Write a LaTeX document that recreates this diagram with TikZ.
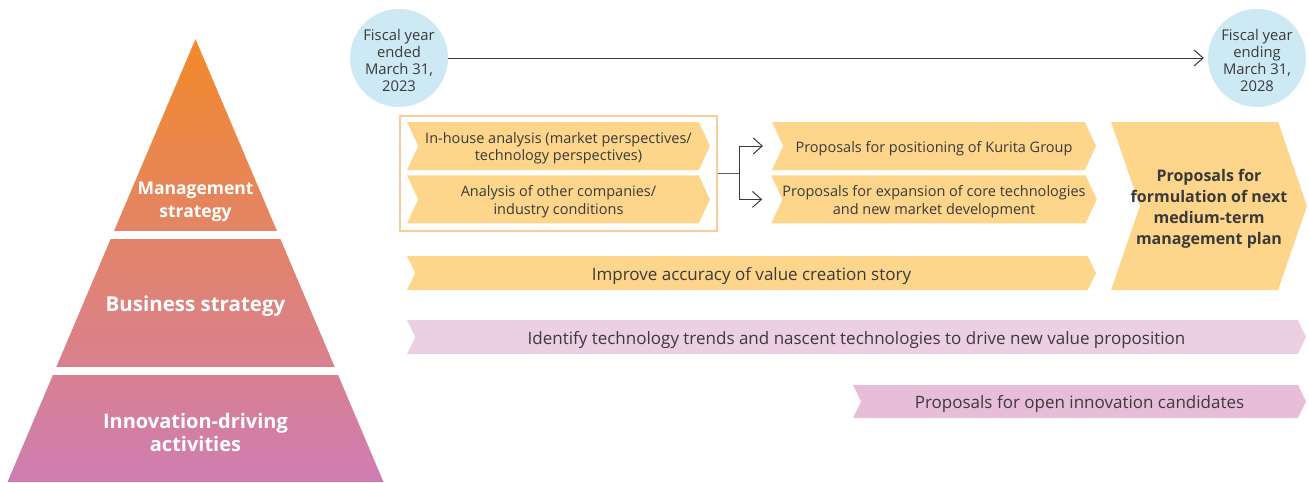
\documentclass[tikz,border=0pt]{standalone}
\usepackage{fontspec}
\setmainfont{Open Sans}
\usetikzlibrary{positioning,arrows.meta,shapes.symbols}
\definecolor{chevron}{HTML}{FDD58B}
\definecolor{pinklight}{HTML}{EDCFE4}
\definecolor{pinkdeep}{HTML}{E8BDDA}
\definecolor{sky}{HTML}{CDEAF4}
\definecolor{ink}{HTML}{3A3A3A}
\definecolor{edge}{HTML}{FBCB9C}
\definecolor{apex}{HTML}{F38A2A}
\definecolor{midtier}{HTML}{E4837A}
\definecolor{base}{HTML}{CF7DB3}
\newcommand{\lift}{\rule{0pt}{1.1em}}

\begin{document}
\begin{tikzpicture}[x=1pt,y=-1pt,
  every node/.style={align=center,text=ink,inner sep=0pt},
  lower/.style={execute at begin node={\lift}},
  chev/.style={lower,signal,signal from=west,signal to=east,signal pointer angle=130,
               fill=chevron,minimum height=48pt,font=\fontsize{14.5}{17.5}\selectfont},
  band/.style={chev,minimum height=34pt,signal pointer angle=128,font=\fontsize{17}{19}\selectfont},
  yr/.style={circle,fill=sky,minimum size=98pt,font=\fontsize{14.8}{16.8}\selectfont},
  tier/.style={text=white,font=\fontsize{20.5}{23}\selectfont\bfseries},
  frame/.style={draw=edge,line width=1.2pt,minimum width=317pt,minimum height=115pt},
  conn/.style={draw=ink,line width=1pt},
  >={Straight Barb[length=9pt,width=16pt]}]
\useasboundingbox (0,0) rectangle (1309,482);
% pyramid
\begin{scope}
  \clip (195.5,39) -- (383.5,482) -- (7.5,482) -- cycle;
  \shade[top color=apex,middle color=midtier,bottom color=base] (0,39) rectangle (400,482);
\end{scope}
\fill[white] (0,231) rectangle (400,239);
\fill[white] (0,367) rectangle (400,375);
\node[tier,font=\fontsize{17.5}{23}\selectfont\bfseries] (mgmt) at (195.5,201.5) {Management\\strategy};
\node[tier] (biz) at (195.5,306) {Business strategy};
\node[tier,font=\fontsize{20}{23}\selectfont\bfseries] (innov) at (195.5,432.5) {Innovation-driving\\activities};
% timeline
\node[yr] (fy23) at (399,58) {\lift Fiscal year\\ended\\March 31,\\2023};
\node[yr] (fy28) at (1257,58) {\lift Fiscal year\\ending\\March 31,\\2028};
\draw[conn,->,shorten >=4pt] (fy23) -- (fy28);
% analysis
\node[frame] (box) at (558.5,173.5) {};
\node[chev,minimum width=303pt] (inhouse) at (558.5,146) {\lift In-house analysis (market perspectives/\\technology perspectives)};
\node[chev,minimum width=303pt,below=5pt of inhouse] (others) {\lift Analysis of other companies/\\industry conditions};
\node[chev,minimum width=324pt] (kurita) at (934,146) {Proposals for positioning of Kurita Group};
\node[chev,minimum width=324pt,below=5pt of kurita] (core) {\lift Proposals for expansion of core technologies\\and new market development};
\node[chev,minimum width=196pt,minimum height=168pt,signal pointer angle=142,inner xsep=-12pt,
      font=\fontsize{16}{21}\selectfont\bfseries] (plan) at (1209,206)
      {\lift Proposals for\\formulation of next\\medium-term\\management plan};
\coordinate[right=22pt of box.east] (split);
\draw[conn,draw=ink!80] (box.east) -- (split);
\draw[conn,->] (split) |- ([xshift=-20pt]kurita.west);
\draw[conn,->] (split) |- ([xshift=-20pt]core.west);
% bands
\node[band,minimum width=689pt] (story) at (751.5,273) {Improve accuracy of value creation story};
\node[band,fill=pinklight,minimum width=899pt] (trend) at (856.5,337) {Identify technology trends and nascent technologies to drive new value proposition};
\node[band,fill=pinkdeep,minimum width=453pt,minimum height=33pt] (open) at (1079.5,401.5) {Proposals for open innovation candidates};
\end{tikzpicture}
\end{document}
